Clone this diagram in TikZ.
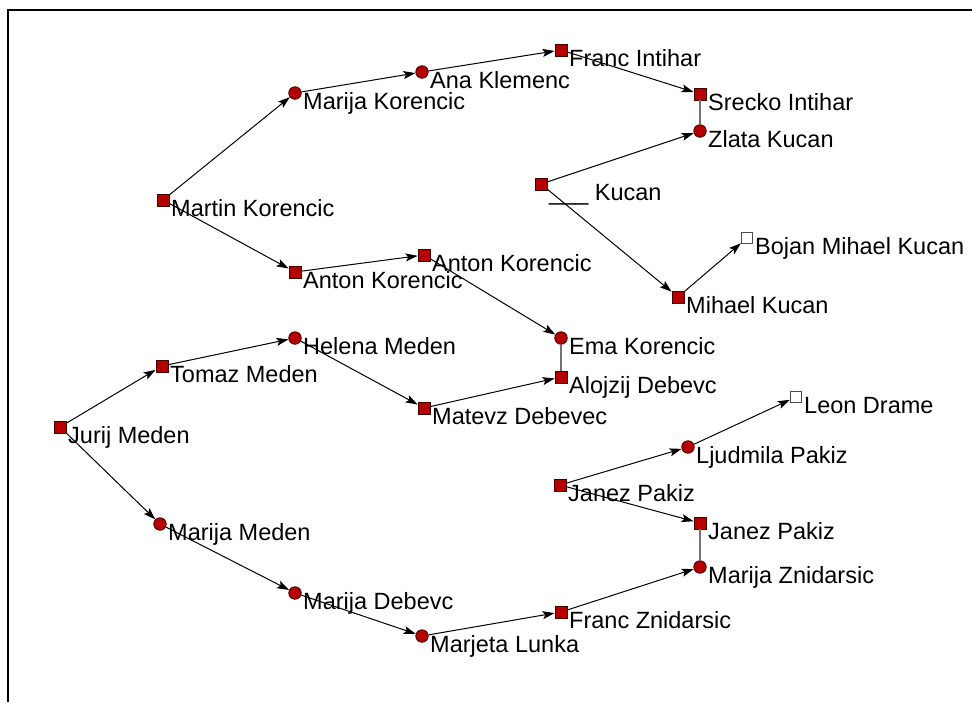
\documentclass[tikz,border=0pt]{standalone}
\usepackage{fontspec}
\setmainfont{Liberation Sans}
\usetikzlibrary{arrows.meta}
\definecolor{nodered}{RGB}{180,0,0}
\definecolor{nodeedge}{RGB}{70,0,0}
\tikzset{
  sq/.style={rectangle,minimum size=12pt,inner sep=0pt,fill=nodered,draw=nodeedge,line width=0.8pt},
  ci/.style={circle,minimum size=12.5pt,inner sep=0pt,fill=nodered,draw=nodeedge,line width=0.8pt},
  wsq/.style={rectangle,minimum size=11.5pt,inner sep=0pt,fill=white,draw=black!70,line width=0.8pt},
  lbl/.style={anchor=base west,inner sep=0pt,font=\fontsize{23.5}{26}\selectfont},
  arr/.style={draw=black,line width=1pt,-{Stealth[length=12pt,width=8pt,inset=2.5pt]}},
  und/.style={draw=black!55,line width=1.6pt},
  frame/.style={draw=black,line width=2.6pt}
}
\newcommand{\person}[5]{%
  \node[#4] (#1) at (#2,#3) {};
  \node[lbl] (#1L) at (#2+8,#3+16) {#5};
}
\begin{document}
\begin{tikzpicture}[x=1pt,y=-1pt]
\useasboundingbox (0,0) rectangle (972,702);
\coordinate (fA) at (8,702);
\coordinate (fB) at (8,10);
\coordinate (fC) at (972,10);
\draw[frame] (fA) -- (fB) -- (fC);

\person{francI}{561}{50}{sq}{Franc Intihar}
\person{ana}{422}{72}{ci}{Ana Klemenc}
\person{marijaK}{295}{93}{ci}{Marija Korencic}
\person{srecko}{700}{94}{sq}{Srecko Intihar}
\person{zlata}{700}{131}{ci}{Zlata Kucan}
\person{kucan}{541}{184}{sq}{\_\_\_ Kucan}
\person{martin}{163}{200}{sq}{Martin Korencic}
\person{bojan}{747}{238}{wsq}{Bojan Mihael Kucan}
\person{antonR}{424}{255}{sq}{Anton Korencic}
\person{antonL}{295}{272}{sq}{Anton Korencic}
\person{mihael}{678}{297}{sq}{Mihael Kucan}
\person{helena}{295}{338}{ci}{Helena Meden}
\person{ema}{561}{338}{ci}{Ema Korencic}
\person{tomaz}{162}{366}{sq}{Tomaz Meden}
\person{alojzij}{561}{377}{sq}{Alojzij Debevc}
\person{leon}{796}{397}{wsq}{Leon Drame}
\person{matevz}{424}{408}{sq}{Matevz Debevec}
\person{jurij}{60}{427}{sq}{Jurij Meden}
\person{ljudmila}{688}{447}{ci}{Ljudmila Pakiz}
\person{janezL}{560}{485}{sq}{Janez Pakiz}
\person{janezR}{700}{523}{sq}{Janez Pakiz}
\person{marijaM}{160}{524}{ci}{Marija Meden}
\person{marijaZ}{700}{567}{ci}{Marija Znidarsic}
\person{marijaD}{295}{593}{ci}{Marija Debevc}
\person{francZ}{561}{612}{sq}{Franc Znidarsic}
\person{marjeta}{422}{636}{ci}{Marjeta Lunka}

\draw[und] (srecko) -- (zlata);
\draw[und] (ema) -- (alojzij);
\draw[und] (janezR) -- (marijaZ);

\draw[arr] (martin) -- (marijaK);
\draw[arr] (marijaK) -- (ana);
\draw[arr] (ana) -- (francI);
\draw[arr] (francI) -- (srecko);
\draw[arr] (kucan) -- (zlata);
\draw[arr] (kucan) -- (mihael);
\draw[arr] (mihael) -- (bojan);
\draw[arr] (martin) -- (antonL);
\draw[arr] (antonL) -- (antonR);
\draw[arr] (antonR) -- (ema);
\draw[arr] (jurij) -- (tomaz);
\draw[arr] (tomaz) -- (helena);
\draw[arr] (helena) -- (matevz);
\draw[arr] (matevz) -- (alojzij);
\draw[arr] (jurij) -- (marijaM);
\draw[arr] (marijaM) -- (marijaD);
\draw[arr] (marijaD) -- (marjeta);
\draw[arr] (marjeta) -- (francZ);
\draw[arr] (francZ) -- (marijaZ);
\draw[arr] (janezL) -- (janezR);
\draw[arr] (janezL) -- (ljudmila);
\draw[arr] (ljudmila) -- (leon);
\end{tikzpicture}
\end{document}
